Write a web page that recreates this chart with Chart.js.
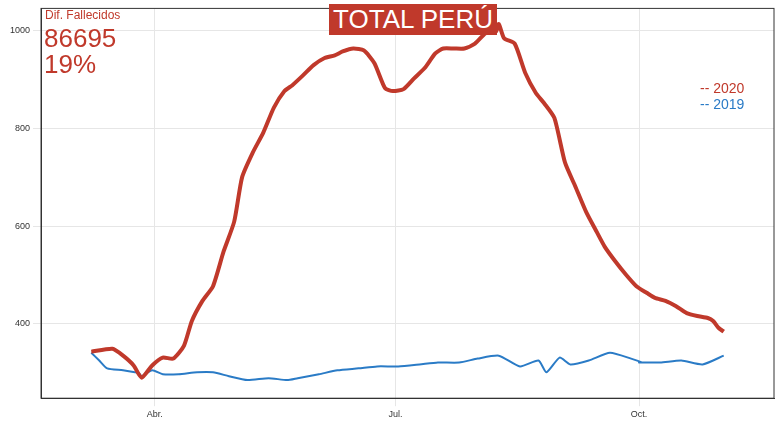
<!DOCTYPE html>
<html lang="es">
<head>
<meta charset="UTF-8" />
<script src="https://cdn.jsdelivr.net/npm/chart.js"></script>
<style>
  body { margin: 0; background: #fff; font-family: 'Liberation Sans', Arial, sans-serif; }
  #wrap { position: relative; width: 780px; height: 435px; }
  .lbl { position: absolute; color: #c0392b; }
  #title { position: absolute; left: 329px; top: 4px; width: 168px; height: 31px; background: #c0392b; color: #fff;
           font-size: 26px; line-height: 31px; text-align: center; }
</style>
</head>
<body>
<div id="wrap">
  <canvas id="chart" width="780" height="435"></canvas>
  <div id="title">TOTAL PERÚ</div>
  <div class="lbl" style="left:45px;top:8px;font-size:12px">Dif. Fallecidos</div>
  <div class="lbl" style="left:44px;top:25px;font-size:26px;line-height:26px">86695</div>
  <div class="lbl" style="left:44px;top:51px;font-size:26px;line-height:26px">19%</div>
  <div class="lbl" style="left:700px;top:80px;font-size:14px">-- 2020</div>
  <div class="lbl" style="left:700px;top:96px;font-size:14px;color:#2a7bc6">-- 2019</div>
</div>
<script>
  // day offsets relative to 1 April 2020
  const days2020 = [-24,-16,-12,-8,-5,-1,3,7,11,14,18,22,26,30,33,37,41,45,49,52,56,60,64,68,71,75,79,83,87,90,94,98,102,106,109,113,117,121,125,129,130,132,136,140,144,147,151,155,159,163,167,170,174,178,182,186,189,193,197,201,205,209,211,213,215];
  const deaths2020 = [343,349,335,315,290,315,331,329,355,406,447,477,548,609,700,750,791,842,876,888,908,929,943,949,957,963,959,933,882,876,880,902,923,953,963,963,963,973,994,998,1013,984,973,913,872,852,821,730,680,629,588,558,528,501,477,463,453,447,436,422,416,412,406,392,384];
  const days2019 = [-24,-21,-18,-12,-6,-5,-1,3,9,16,22,28,35,43,50,54,62,69,77,84,92,100,107,115,122,130,138,145,148,153,157,164,172,180,184,183,191,199,207,215];
  const deaths2019 = [341,325,309,305,299,293,305,297,297,301,301,293,285,289,285,289,297,305,309,313,313,317,321,321,329,335,313,325,301,331,317,325,341,329,321,321,321,325,317,335];
  const tickDays = [0, 91, 183];
  const tickNames = ['Abr.', 'Jul.', 'Oct.'];

  const pts = (xs, ys) => xs.map((x, i) => ({ x: x, y: ys[i] }));

  const frame = {
    id: 'frame',
    afterDraw(c) {
      const a = c.chartArea, g = c.ctx;
      g.save(); g.strokeStyle = '#333'; g.lineWidth = 1;
      g.strokeRect(a.left, a.top, a.right - a.left, a.bottom - a.top);
      g.restore();
    }
  };

  new Chart(document.getElementById('chart'), {
    type: 'line',
    data: {
      datasets: [
        { data: pts(days2020, deaths2020), borderColor: '#c0392b', borderWidth: 4, pointRadius: 0, tension: 0.2 },
        { data: pts(days2019, deaths2019), borderColor: '#2a7bc6', borderWidth: 2, pointRadius: 0, tension: 0.2 }
      ]
    },
    plugins: [frame],
    options: {
      responsive: false,
      animation: false,
      layout: { padding: { left: 7, right: 6, top: 5, bottom: 12 } },
      plugins: { legend: { display: false }, tooltip: { enabled: false } },
      scales: {
        x: {
          type: 'linear', min: -43, max: 234,
          afterBuildTicks: s => { s.ticks = tickDays.map(v => ({ value: v })); },
          ticks: { callback: v => tickNames[tickDays.indexOf(v)], color: '#333', font: { size: 9 } },
          grid: { color: '#e6e6e6' },
          border: { color: '#333' }
        },
        y: {
          min: 248, max: 1045,
          afterBuildTicks: s => { s.ticks = [400, 600, 800, 1000].map(v => ({ value: v })); },
          ticks: { callback: v => String(v), color: '#333', font: { size: 9 } },
          grid: { color: '#e6e6e6' },
          border: { color: '#333' }
        }
      }
    }
  });
</script>
</body>
</html>
